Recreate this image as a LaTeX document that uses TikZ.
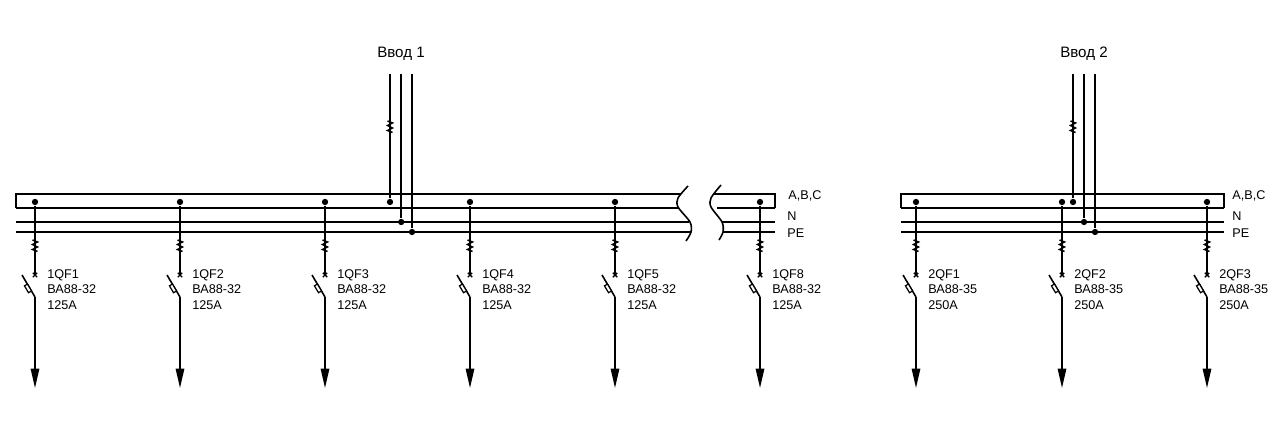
\documentclass[tikz,border=0pt]{standalone}
\usepackage{fontspec}
\setmainfont{Liberation Sans}
\usetikzlibrary{calc}
\usetikzlibrary{arrows.meta}
\tikzset{
    busthin/.style={line width=0.8pt},
    busthick/.style={line width=1.3pt},
    wire/.style={line width=0.9pt},
    joint/.style={circle,fill=black,inner sep=0pt,minimum size=3.6pt},
    lbl/.style={inner sep=0pt,anchor=west,font=\fontsize{7.2}{8.8}\selectfont,align=left},
    pics/zig/.style={code={
        \draw[line width=0.85pt] (-2.5,-6) -- (2.5,-4) -- (-2.5,-1.5) -- (2.5,1) -- (-2.5,3.5) -- (2.5,5.5);
    }},
    pics/cross/.style={code={
        \draw[line width=0.8pt] (-2.2,-2.2) -- (2.2,2.2) (-2.2,2.2) -- (2.2,-2.2);
    }}
}
\begin{document}
\begin{tikzpicture}[x=0.02cm,y=-0.02cm]
    \useasboundingbox (0,0) rectangle (1280,438);
    %SHINA 1
    \draw[busthin] (681,194) -- (16,194) -- (16,208);
    \draw[busthick] (16,208) -- (678,208);
    \draw[busthin] (16,222) -- (689,222);
    \draw[busthin] (16,232) -- (691,232);
    \draw[busthin] (713,194) -- (775,194) -- (775,208);
    \draw[busthick] (775,208) -- (717,208);
    \draw[busthin] (722,222) -- (775,222);
    \draw[busthin] (723,232) -- (775,232);
    %RAZRYV
    \draw[wire] plot[smooth] coordinates {(688,186) (678,198) (678,207) (690,222) (691,232) (686,241)};
    \draw[wire] plot[smooth] coordinates {(721,185) (711,198) (711,207) (722,222) (723,232) (719,240)};
    %SHINA 2
    \draw[busthin] (1224,208) -- (1224,194) -- (901,194) -- (901,208);
    \draw[busthick] (901,208) -- (1224,208);
    \draw[busthin] (901,222) -- (1224,222);
    \draw[busthin] (901,232) -- (1224,232);
    %SHINA LABELS
    \node[lbl] (abc1) at (788,196) {A,B,C};
    \node[lbl] (n1) at (787,216) {N};
    \node[lbl] (pe1) at (787,233) {PE};
    \node[lbl] (abc2) at (1232,196) {A,B,C};
    \node[lbl] (n2) at (1232,216) {N};
    \node[lbl] (pe2) at (1232,233) {PE};
    %VVOD
    \node[inner sep=0pt,font=\fontsize{8.6}{10}\selectfont] (vvod1) at (401,54) {Ввод 1};
    \node[inner sep=0pt,font=\fontsize{8.6}{10}\selectfont] (vvod2) at (1084,54) {Ввод 2};
    \foreach \nm/\xa/\xb/\xc in {a/390/401.2/412, b/1073/1084/1095}{
        \coordinate (top\nm L) at (\xa,74);
        \coordinate (top\nm N) at (\xb,74);
        \coordinate (top\nm P) at (\xc,74);
        \node[joint] (j\nm L) at (\xa,202) {};
        \node[joint] (j\nm N) at (\xb,222) {};
        \node[joint] (j\nm P) at (\xc,232) {};
        \draw[wire] (top\nm L) -- (j\nm L);
        \draw[wire] (top\nm N) -- (j\nm N);
        \draw[wire] (top\nm P) -- (j\nm P);
        \pic at (\xa,127) {zig};
    }
    %OTHODYASHCHIE LINII
    \foreach \x/\qf/\va/\amp in {35/1QF1/32/125A, 180/1QF2/32/125A, 325/1QF3/32/125A, 470/1QF4/32/125A, 615/1QF5/32/125A, 760/1QF8/32/125A, 916/2QF1/35/250A, 1062/2QF2/35/250A, 1207/2QF3/35/250A}{
        \node[joint] (dot\qf) at (\x,202) {};
        \coordinate (brk\qf) at (\x,275);
        \coordinate (pin\qf) at (\x,297);
        \coordinate (end\qf) at (\x,388);
        \draw[wire] (dot\qf) -- (brk\qf);
        \pic at (\x,246) {zig};
        \pic at (brk\qf) {cross};
        %NOZH
        \draw[wire] ($(pin\qf)+(-13,-22)$) -- (pin\qf);
        \draw[line width=0.7pt,fill=white] ($(pin\qf)+(-7.54,-12.94)$) -- ($(pin\qf)+(-3.46,-6.06)$) -- ($(pin\qf)+(-6.47,-4.28)$) -- ($(pin\qf)+(-10.55,-11.16)$) -- cycle;
        \draw[wire,-{Triangle[length=11pt,width=4.8pt]}] (pin\qf) -- (end\qf);
        \node[lbl] (txt\qf) at (\x+12,289.5) {\qf\\ВА88-\va\\\amp};
    }
\end{tikzpicture}
\end{document}
